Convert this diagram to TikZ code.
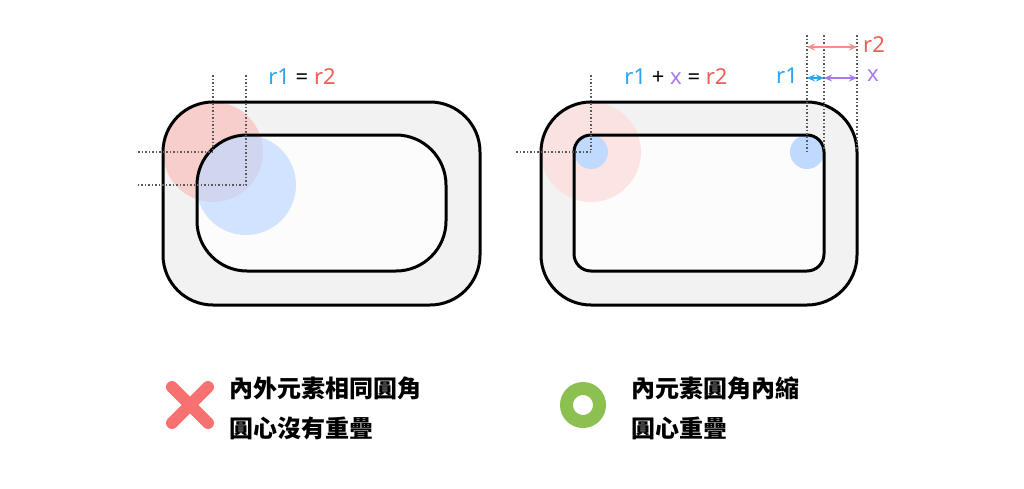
\documentclass[tikz,border=0pt]{standalone}
\usepackage{fontspec}
\setsansfont{Noto Sans}
\newfontfamily\cjk{Noto Sans CJK TC}
\usetikzlibrary{arrows.meta}
\definecolor{cred}{HTML}{F25C54}
\definecolor{cblue}{HTML}{2AA5F0}
\definecolor{cpurple}{HTML}{A77BEF}
\definecolor{cgreen}{HTML}{8CC152}
\definecolor{cx}{HTML}{F87171}
\begin{document}
\begin{tikzpicture}[x=1pt,y=-1pt]
\tikzset{
  outer/.style={line width=3pt,fill=black!5},
  inner/.style={line width=3pt,fill=black!1},
  dot/.style={dash pattern=on 1.5pt off 2pt,line width=2pt,black!65},
  lbl/.style={font=\sffamily\bfseries\fontsize{22}{22}\selectfont},
  caption/.style={font=\cjk\bfseries\fontsize{24}{24}\selectfont,anchor=west},
  dim/.style={{Stealth[length=8pt,width=7pt]}-{Stealth[length=8pt,width=7pt]},line width=1.5pt}
}
\useasboundingbox (0,0) rectangle (1024,488);
% left
\path[outer,rounded corners=50pt] (163,102) rectangle (480,305);
\path[inner,rounded corners=50pt] (197,135) rectangle (446,271);
\fill[cred!35,opacity=.8] (213,152) circle (50);
\fill[blue!60!cyan!25,opacity=.7] (246,185) circle (50);
\draw[line width=3pt,rounded corners=50pt] (163,102) rectangle (480,305);
\draw[line width=3pt,rounded corners=50pt] (197,135) rectangle (446,271);
\draw[dot] (213,75) -- (213,152) -- (137,152);
\draw[dot] (246,75) -- (246,185) -- (137,185);
\node[lbl] (eq) at (302,77) {\textcolor{cblue}{r1} = \textcolor{cred}{r2}};
% right
\path[outer,rounded corners=50pt] (541,102) rectangle (857,305);
\path[inner,rounded corners=17pt] (574,135) rectangle (824,271);
\fill[cred!20,opacity=.8] (591,152) circle (50);
\fill[blue!60!cyan!25] (591,152) circle (17);
\fill[blue!60!cyan!25] (807,152) circle (17);
\draw[line width=3pt,rounded corners=50pt] (541,102) rectangle (857,305);
\draw[line width=3pt,rounded corners=17pt] (574,135) rectangle (824,271);
\draw[dot] (591,75) -- (591,152) -- (515,152);
\draw[dot] (807,35) -- (807,152);
\draw[dot] (824,35) -- (824,150);
\draw[dot] (857,35) -- (857,150);
\coordinate (a1) at (807,47); \coordinate (a2) at (857,47);
\coordinate (b1) at (807,78); \coordinate (b2) at (824,78); \coordinate (b3) at (857,78);
\draw[dim,cred!70] (a1) -- (a2);
\draw[dim,cblue] (b1) -- (b2);
\draw[dim,cpurple] (b2) -- (b3);
\node[lbl,text=cred] (r2) at (874,45) {r2};
\node[lbl,text=cblue] (r1) at (787,76) {r1};
\node[lbl,text=cpurple] (x) at (873,76) {x};
\node[lbl] (sum) at (676,77) {\textcolor{cblue}{r1} + \textcolor{cpurple}{x} = \textcolor{cred}{r2}};
% captions
\draw[cx,line width=12pt,line cap=round] (172,387) -- (208,423) (208,387) -- (172,423);
\node[caption] (t1) at (226,388) {內外元素相同圓角};
\node[caption] (t2) at (226,428) {圓心沒有重疊};
\draw[cgreen,line width=13pt] (583,405) circle (16.5);
\node[caption] (t3) at (628,388) {內元素圓角內縮};
\node[caption] (t4) at (628,428) {圓心重疊};
\end{tikzpicture}
\end{document}
